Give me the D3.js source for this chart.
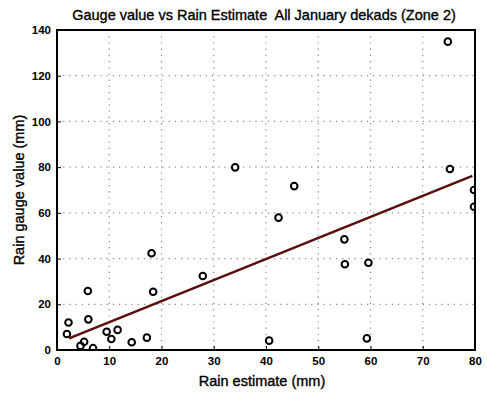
<!DOCTYPE html>
<html><head><meta charset="utf-8">
<script src="https://cdn.jsdelivr.net/npm/d3@7"></script>
<style>body{margin:0;background:#fff}text{font-family:"Liberation Sans",Arial,sans-serif}</style>
</head><body><svg id="c" width="487" height="393"></svg>
<script>
const rainEstimate = [1.9,2.2,4.5,5.2,5.9,6.0,6.9,9.5,10.4,11.6,14.3,17.2,18.1,18.4,27.9,34.1,40.6,42.4,45.4,55.0,55.1,59.6,59.3,74.8,75.2,79.8,79.8];
const gaugeValue   = [7.0,12.0,1.8,3.6,25.8,13.4,0.8,8.0,4.8,8.8,3.4,5.4,42.3,25.5,32.4,79.9,4.1,57.9,71.7,48.4,37.5,38.2,5.1,134.9,79.2,70.0,62.7];
const fitX = [2.3, 79.5];
const fitY = [5.1, 76.2];
const xTicks = [0,10,20,30,40,50,60,70,80];
const yTicks = [0,20,40,60,80,100,120,140];
const title = "Gauge value vs Rain Estimate  All January dekads (Zone 2)";
const xLabel = "Rain estimate (mm)";
const yLabel = "Rain gauge value (mm)";

const svg = d3.select("#c");
const L=57,R=475,T=30,B=350;
const x = d3.scaleLinear().domain([0,80]).range([L,R]);
const y = d3.scaleLinear().domain([0,140]).range([B,T]);

// grid
const g = svg.append("g");
g.selectAll(".vg").data(xTicks.slice(1,-1)).join("line")
 .attr("x1",d=>x(d)).attr("x2",d=>x(d)).attr("y1",T).attr("y2",B)
 .attr("stroke","#888").attr("stroke-width",1.2).attr("stroke-dasharray","1.2,5");
g.selectAll(".hg").data(yTicks.slice(1,-1)).join("line")
 .attr("y1",d=>y(d)).attr("y2",d=>y(d)).attr("x1",L).attr("x2",R)
 .attr("stroke","#888").attr("stroke-width",1.2).attr("stroke-dasharray","1.2,5");

// axes
const xa = svg.append("g").attr("transform",`translate(0,${B})`)
 .call(d3.axisBottom(x).tickValues(xTicks).tickSize(-4).tickPadding(7).tickFormat(d3.format("d")));
const ya = svg.append("g").attr("transform",`translate(${L},0)`)
 .call(d3.axisLeft(y).tickValues(yTicks).tickSize(-4).tickPadding(6).tickFormat(d3.format("d")));
[xa,ya].forEach(a=>{a.select(".domain").remove();a.selectAll("line").attr("stroke","#000");
 a.selectAll("text").attr("font-size",11.5).attr("font-weight","bold").attr("fill","#000");});

// clip
svg.append("clipPath").attr("id","clip").append("rect").attr("x",L).attr("y",T).attr("width",R-L).attr("height",B-T);
const p = svg.append("g").attr("clip-path","url(#clip)");

// fit line
p.append("path").datum(fitX.map((d,i)=>[d,fitY[i]]))
 .attr("d",d3.line().x(d=>x(d[0])).y(d=>y(d[1])))
 .attr("stroke","#5a0d0d").attr("stroke-width",2.5).attr("fill","none");

// points
p.selectAll("circle").data(rainEstimate.map((d,i)=>[d,gaugeValue[i]])).join("circle")
 .attr("cx",d=>x(d[0])).attr("cy",d=>y(d[1])).attr("r",3.3)
 .attr("fill","none").attr("stroke","#000").attr("stroke-width",2);

// box
svg.append("rect").attr("x",L).attr("y",T).attr("width",R-L).attr("height",B-T)
 .attr("fill","none").attr("stroke","#000").attr("stroke-width",2);

// labels
const lab = (sel)=>sel.attr("fill","#000").attr("stroke","#000").attr("stroke-width",0.35).style("white-space","pre");
lab(svg.append("text").attr("x",264).attr("y",20).attr("text-anchor","middle")
 .attr("font-size",14.5).text(title));
lab(svg.append("text").attr("x",262).attr("y",386).attr("text-anchor","middle")
 .attr("font-size",14.5).text(xLabel));
lab(svg.append("text").attr("transform",`translate(24,${(T+B)/2}) rotate(-90)`).attr("text-anchor","middle")
 .attr("font-size",14.5).text(yLabel));
</script></body></html>
